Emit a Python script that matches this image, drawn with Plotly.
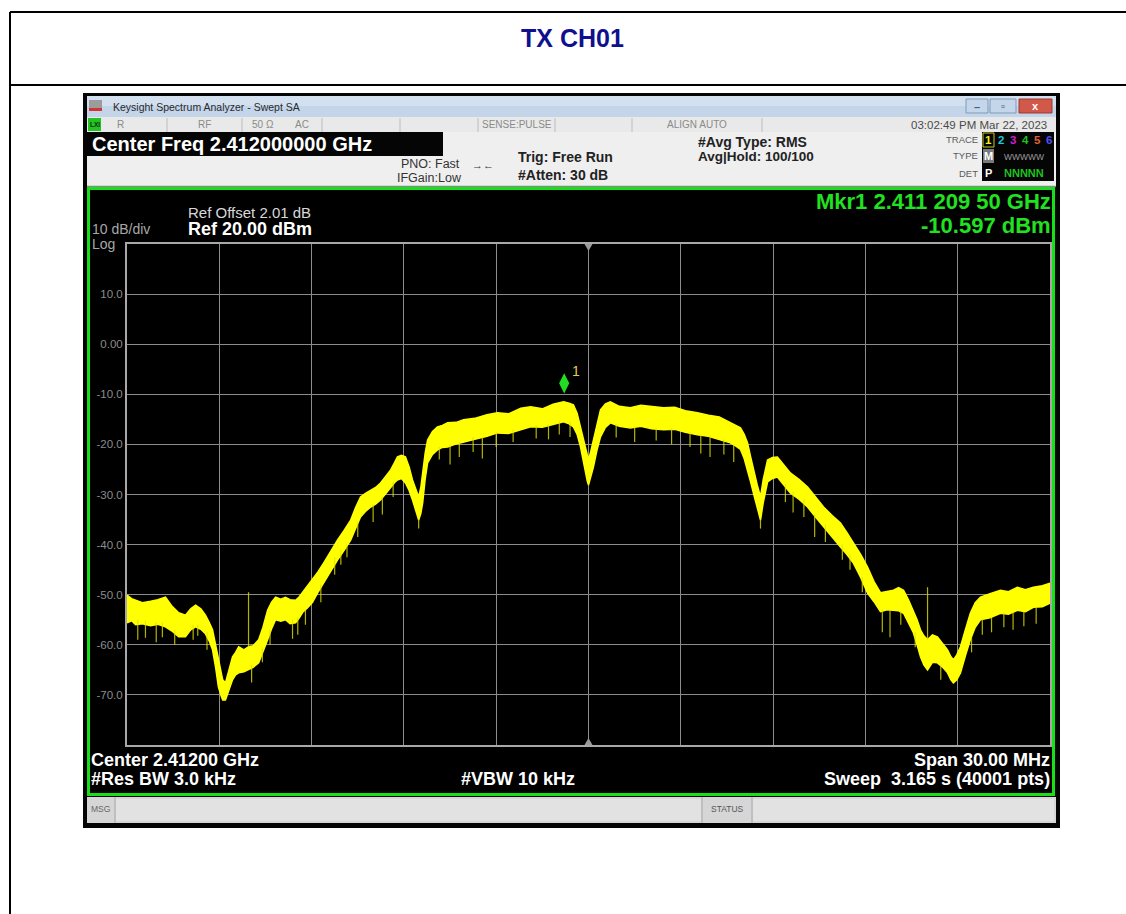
import plotly.graph_objects as go

W, H = 1126, 914

# ---------------- data ----------------
center_ghz = 2.412
span_mhz = 30.0
ref_dbm = 20.0
bottom_dbm = -80.0
x_div_mhz = 3.0

# trace band: frequency offset from centre (MHz), upper / lower edge of the yellow band (dBm)
freq_mhz = [-15.00, -14.85, -14.72, -14.50, -14.23, -14.00, -13.75, -13.55, -13.32, -13.10,
            -12.93, -12.77, -12.60, -12.45, -12.33, -12.22, -12.12, -12.03, -11.95, -11.89,
            -11.80, -11.70, -11.57, -11.47, -11.37, -11.20, -11.05, -10.90, -10.72, -10.58,
            -10.43, -10.30, -10.17, -10.00, -9.85, -9.70, -9.52, -9.40, -9.29, -9.13,
            -8.97, -8.80, -8.61, -8.40, -8.16, -7.95, -7.73, -7.57, -7.41, -7.25,
            -7.08, -6.92, -6.76, -6.60, -6.43, -6.30, -6.21, -6.08, -5.95, -5.83,
            -5.72, -5.62, -5.52, -5.45, -5.39, -5.31, -5.23, -5.07, -4.91, -4.75,
            -4.58, -4.30, -4.06, -3.70, -3.30, -2.96, -2.60, -2.20, -1.88, -1.50,
            -1.15, -0.81, -0.63, -0.49, -0.37, -0.26, -0.18, -0.10, -0.04, 0.00,
            0.07, 0.16, 0.27, 0.39, 0.55, 0.71, 1.00, 1.36, 1.70, 2.05,
            2.44, 2.80, 3.15, 3.54, 3.90, 4.25, 4.61, 4.78, 4.94, 5.06,
            5.17, 5.27, 5.36, 5.48, 5.59, 5.68, 5.82, 5.98, 6.14, 6.35,
            6.56, 6.85, 7.12, 7.38, 7.64, 7.92, 8.19, 8.40, 8.61, 8.85,
            9.07, 9.28, 9.49, 9.70, 9.91, 10.08, 10.24, 10.40, 10.56, 10.68,
            10.79, 10.90, 11.02, 11.18, 11.34, 11.50, 11.67, 11.78, 11.86, 11.97,
            12.09, 12.25, 12.41, 12.57, 12.74, 13.05, 13.39, 13.65, 13.94, 14.20,
            14.46, 14.75, 15.00]
band_hi_dbm = [-50.1, -50.8, -51.1, -51.6, -51.3, -51.0, -50.5, -52.2, -53.6, -54.1,
               -52.8, -52.1, -52.8, -54.1, -55.5, -57.0, -60.0, -63.0, -65.5, -67.0,
               -67.6, -65.2, -62.4, -61.5, -60.4, -61.0, -60.4, -60.2, -59.0, -56.5,
               -53.1, -51.5, -50.5, -50.9, -50.5, -51.0, -51.1, -50.4, -49.5, -48.4,
               -47.1, -45.5, -43.7, -41.5, -39.1, -37.2, -35.1, -32.6, -30.5, -29.8,
               -29.1, -28.6, -27.7, -26.5, -25.1, -23.6, -22.5, -22.2, -22.5, -24.5,
               -27.1, -28.8, -30.5, -28.6, -25.1, -21.8, -19.1, -17.4, -16.5, -16.2,
               -15.7, -15.6, -15.1, -14.8, -14.1, -13.7, -13.9, -12.8, -12.5, -12.9,
               -12.0, -11.5, -11.8, -12.1, -13.8, -16.5, -18.4, -20.5, -22.3, -23.1,
               -21.5, -19.1, -16.0, -13.1, -11.9, -11.5, -12.4, -12.7, -12.2, -12.4,
               -12.7, -12.6, -13.3, -13.7, -14.2, -14.5, -15.7, -16.1, -16.7, -18.0,
               -19.7, -22.5, -25.1, -28.0, -30.5, -27.0, -23.1, -22.6, -22.5, -24.0,
               -25.7, -27.0, -28.5, -30.5, -32.5, -34.2, -35.7, -37.6, -39.7, -42.0,
               -44.5, -47.4, -49.6, -49.4, -49.1, -48.6, -49.1, -51.0, -53.1, -55.0,
               -57.0, -58.2, -59.0, -58.0, -58.4, -59.6, -61.0, -62.4, -63.0, -62.0,
               -60.4, -57.0, -53.7, -51.6, -50.5, -49.8, -49.1, -49.4, -48.5, -49.0,
               -48.5, -48.2, -47.7]
band_lo_dbm = [-55.6, -55.2, -56.0, -55.8, -56.2, -55.9, -56.4, -57.2, -58.4, -58.4,
               -57.0, -56.4, -56.9, -57.8, -59.2, -61.0, -64.5, -68.4, -70.0, -71.0,
               -71.0, -69.3, -67.0, -66.0, -65.6, -65.4, -65.0, -64.5, -63.6, -61.5,
               -59.0, -56.8, -55.0, -55.3, -55.0, -55.8, -55.6, -54.6, -53.5, -52.6,
               -51.5, -49.6, -47.7, -45.4, -43.1, -41.2, -39.1, -36.8, -34.5, -33.4,
               -32.5, -31.9, -31.1, -29.9, -28.5, -27.6, -27.1, -26.8, -27.7, -29.2,
               -31.1, -33.2, -35.1, -33.8, -31.7, -27.0, -23.7, -22.0, -21.1, -20.6,
               -20.5, -19.9, -19.5, -19.0, -18.4, -17.7, -17.8, -17.0, -16.5, -16.6,
               -16.0, -15.5, -15.9, -16.5, -18.0, -20.5, -23.0, -25.7, -27.3, -28.1,
               -26.5, -24.5, -21.3, -18.5, -16.6, -15.7, -16.4, -16.7, -16.4, -16.9,
               -17.1, -17.0, -17.6, -18.1, -18.4, -19.0, -19.7, -20.3, -21.0, -22.8,
               -25.1, -27.5, -29.7, -32.5, -35.1, -31.6, -27.5, -26.8, -26.5, -28.1,
               -29.7, -31.0, -32.5, -34.5, -36.5, -38.5, -40.5, -42.0, -43.7, -46.6,
               -49.7, -51.4, -53.4, -53.0, -53.1, -53.2, -53.7, -55.5, -57.6, -60.0,
               -62.4, -64.0, -65.0, -63.5, -63.6, -64.4, -65.6, -67.0, -67.6, -67.0,
               -65.6, -62.2, -59.0, -56.5, -55.0, -54.6, -53.7, -53.9, -53.1, -53.4,
               -52.5, -52.4, -51.7]

# isolated noise spikes: frequency offset (MHz) and the two ends of each spike (dBm)
spike_mhz = [-14.65, -14.40, -14.05, -13.85, -13.45, -12.85, -12.70, -12.40, -11.05, -10.95,
             -10.60, -10.35, -9.62, -9.45, -9.20, -8.70, -8.25, -8.05, -7.85, -7.50,
             -7.00, -6.70, -6.35, -5.52, -4.85, -4.50, -4.20, -3.75, -3.45, -3.00,
             -2.45, -1.70, -1.30, -0.95, -0.60, 0.90, 1.50, 2.20, 2.70, 3.30,
             3.65, 3.95, 4.40, 4.72, 5.59, 6.40, 6.65, 7.00, 7.35, 7.70,
             8.25, 8.50, 8.90, 9.55, 9.80, 10.15, 10.62, 11.02, 11.45, 12.45,
             12.80, 13.10, 13.50, 13.80, 14.15, 14.55]
spike_a_dbm = [-55.0, -55.2, -55.5, -55.5, -57.0, -56.0, -56.0, -57.5, -60.4, -64.0,
               -60.5, -57.0, -55.0, -54.5, -53.0, -48.0, -42.5, -41.0, -40.0, -35.5,
               -32.0, -30.5, -27.5, -35.0, -20.5, -20.0, -19.5, -18.5, -18.5, -17.5,
               -17.0, -16.2, -16.0, -15.3, -15.5, -16.0, -16.5, -16.8, -16.8, -17.5,
               -18.0, -18.2, -19.0, -20.0, -35.0, -28.0, -29.5, -31.0, -34.0, -36.0,
               -40.0, -42.0, -46.5, -53.0, -53.0, -53.2, -57.5, -59.0, -64.0, -58.5,
               -54.8, -54.5, -53.5, -53.5, -53.3, -52.5]
spike_b_dbm = [-59.0, -58.6, -59.5, -58.5, -60.0, -59.0, -58.2, -61.0, -49.5, -67.5,
               -63.5, -60.0, -58.8, -58.0, -56.0, -51.5, -46.0, -44.0, -42.5, -38.5,
               -35.5, -34.0, -30.5, -36.8, -23.0, -24.0, -22.5, -21.5, -22.8, -20.5,
               -19.5, -18.8, -19.0, -18.0, -18.5, -18.6, -19.5, -19.2, -20.0, -20.5,
               -21.8, -22.5, -22.0, -23.5, -36.8, -31.5, -33.6, -34.5, -38.5, -39.5,
               -43.0, -45.0, -49.5, -57.5, -58.5, -56.0, -60.5, -48.5, -67.0, -61.5,
               -58.0, -57.5, -56.5, -57.0, -56.3, -55.8]

ytick_vals = [10, 0, -10, -20, -30, -40, -50, -60, -70]
ytick_text = ["10.0", "0.00", "-10.0", "-20.0", "-30.0", "-40.0", "-50.0", "-60.0", "-70.0"]

mkr_freq_ghz = 2.4112095
mkr_dbm = -10.597

# ---------------- layout helpers ----------------
FONT = "Liberation Sans, Arial, sans-serif"
shapes = []
anns = []


def px(x):
    return x / W


def py(y):
    return 1 - y / H


def rect(x0, y0, x1, y1, fill, line=None, lw=0, layer="below"):
    shapes.append(dict(type="rect", xref="paper", yref="paper",
                       x0=px(x0), x1=px(x1), y0=py(y1), y1=py(y0),
                       fillcolor=fill, layer=layer,
                       line=dict(width=lw, color=line if line else fill)))


def hline(x0, x1, y, color, lw=1, layer="below"):
    shapes.append(dict(type="line", xref="paper", yref="paper",
                       x0=px(x0), x1=px(x1), y0=py(y), y1=py(y),
                       line=dict(color=color, width=lw), layer=layer))


def vline(x, y0, y1, color, lw=1, layer="below"):
    shapes.append(dict(type="line", xref="paper", yref="paper",
                       x0=px(x), x1=px(x), y0=py(y0), y1=py(y1),
                       line=dict(color=color, width=lw), layer=layer))


def txt(x, y, s, size, color, anchor="left", bold=False, family=FONT):
    anns.append(dict(x=px(x), y=py(y), xref="paper", yref="paper",
                     text=("<b>%s</b>" % s) if bold else s, showarrow=False,
                     xanchor=anchor, yanchor="middle", borderpad=0,
                     font=dict(size=size, color=color, family=family)))


# ---------------- page (report table) ----------------
hline(10, 1126, 12, "black", 2)
hline(10, 1126, 85, "black", 2)
vline(10, 12, 914, "black", 2)
txt(572, 38, "TX CH01", 25, "#10108e", "center", True)

# ---------------- screenshot frame ----------------
rect(83, 93, 1060, 828, "#050505")
# window title bar
rect(87, 96, 1056, 106, "#d3e0ef")
rect(87, 106, 1056, 117, "#c4d5ea")
rect(89, 100, 102, 108, "#9c9c9c")
rect(89, 108, 102, 111, "#cf3535")
txt(112, 107, "Keysight Spectrum Analyzer - Swept SA", 10.5, "#2a2a2a")
rect(966, 99, 988, 113, "#c5d6ea", "#7f9bbb", 1)
txt(977, 107, "–", 11, "#3b5f8f", "center", True)
rect(990, 99, 1016, 113, "#c5d6ea", "#7f9bbb", 1)
txt(1003, 106, "▫", 11, "#3b5f8f", "center", True)
rect(1019, 99, 1052, 113, "#d2584a", "#9a3a30", 1)
txt(1035.5, 106, "x", 11, "white", "center", True)

# status row
rect(87, 117, 1056, 132, "#e9e9e9")
for xs in [167, 242, 322, 400, 478, 555, 632, 762]:
    vline(xs, 118, 132, "#bdbdbd", 1)
rect(88, 118, 101, 131, "#22c322")
txt(94.5, 125, "LXI", 6.5, "#103010", "center", True)
txt(116, 125, "R", 10, "#8a8a8a")
txt(204, 125, "RF", 10, "#8a8a8a", "center")
txt(263, 125, "50 Ω", 10, "#8a8a8a", "center")
txt(302, 125, "AC", 10, "#8a8a8a", "center")
txt(517, 125, "SENSE:PULSE", 10, "#8a8a8a", "center")
txt(697, 125, "ALIGN AUTO", 10, "#8a8a8a", "center")
txt(1048, 125, "03:02:49 PM Mar 22, 2023", 11.5, "#4a4a4a", "right")

# header
rect(87, 132, 1056, 186, "#efefef")
rect(87, 132, 443, 156, "#050505")
txt(91, 144, "Center Freq 2.412000000 GHz", 20, "white", bold=True)
txt(400, 164, "PNO: Fast", 12.5, "#333333")
txt(396, 178, "IFGain:Low", 12.5, "#333333")
txt(483, 165, "→←", 11, "#333333", "center", True)
txt(517, 157, "Trig: Free Run", 14, "#222222", bold=True)
txt(517, 175, "#Atten: 30 dB", 14, "#222222", bold=True)
txt(697, 142, "#Avg Type: RMS", 14, "#222222", bold=True)
txt(697, 157, "Avg|Hold: 100/100", 13.5, "#222222", bold=True)
txt(979, 139, "TRACE", 9.5, "#5a5a5a", "right")
txt(979, 156, "TYPE", 9.5, "#5a5a5a", "right")
txt(979, 173, "DET", 9.5, "#5a5a5a", "right")
rect(982, 132, 1054, 181, "#050505")
rect(983, 133, 994, 147, "#050505", "#c8c820", 1)
for xd, d, c in [(988.5, "1", "#f0f020"), (1001, "2", "#20c8d8"), (1013, "3", "#d020d0"),
                 (1025, "4", "#20c020"), (1037, "5", "#e06030"), (1049, "6", "#5050f0")]:
    txt(xd, 140, d, 11.5, c, "center", True)
rect(983, 149, 994, 163, "#7a7a7a")
txt(988.5, 156, "M", 11, "white", "center", True)
txt(1024, 157, "WWWWW", 8.5, "#9a9a9a", "center")
txt(988.5, 173, "P", 11, "white", "center", True)
txt(1024, 173, "NNNNN", 11, "#20c020", "center", True)
hline(87, 1056, 186.5, "#8a8a8a", 1.5)

# measurement screen (green border)
rect(88.5, 188.5, 1053.5, 794.5, "#000000", "#18e018", 3)
txt(91, 229, "10 dB/div", 14, "#a8a8a8")
txt(91, 244, "Log", 14, "#a8a8a8")
txt(187, 212, "Ref Offset 2.01 dB", 15, "#d8d8d8")
txt(187, 229, "Ref 20.00 dBm", 18, "white", bold=True)
txt(1052, 201, "Mkr1 2.411 209 50 GHz", 22, "#22e022", "right", True)
txt(1052, 225, "-10.597 dBm", 22, "#22e022", "right", True)
txt(90, 760, "Center 2.41200 GHz", 18, "white", bold=True)
txt(90, 779, "#Res BW 3.0 kHz", 18, "white", bold=True)
txt(460, 779, "#VBW 10 kHz", 18, "white", bold=True)
txt(1051, 760, "Span 30.00 MHz", 18, "white", "right", True)
txt(1051, 779, "Sweep  3.165 s (40001 pts)", 18, "white", "right", True)

# message bar
rect(87, 797, 1056, 823, "#d6d6d6")
rect(116, 799, 701, 821, "#e2e2e2")
rect(753, 799, 1054, 821, "#e2e2e2")
vline(115, 797, 823, "#a8a8a8", 1)
vline(702, 797, 823, "#a8a8a8", 1)
vline(752, 797, 823, "#a8a8a8", 1)
txt(90, 809, "MSG", 8.5, "#666666")
txt(727, 809, "STATUS", 8.5, "#555555", "center")

# ---------------- plot ----------------
GX0, GX1, GY0, GY1 = 127, 1050, 244, 745
x_lo, x_hi = -span_mhz / 2, span_mhz / 2

fig = go.Figure()
fig.add_trace(go.Scatter(x=freq_mhz, y=band_lo_dbm, mode="lines",
                         line=dict(color="#ffff00", width=1.5), hoverinfo="skip", showlegend=False))
fig.add_trace(go.Scatter(x=freq_mhz, y=band_hi_dbm, mode="lines", fill="tonexty", fillcolor="#ffff00",
                         line=dict(color="#ffff00", width=1.5), hoverinfo="skip", showlegend=False))
sx, sy = [], []
for f, a, b in zip(spike_mhz, spike_a_dbm, spike_b_dbm):
    sx += [f, f, None]
    sy += [a, b, None]
fig.add_trace(go.Scatter(x=sx, y=sy, mode="lines", line=dict(color="rgba(225,225,0,0.8)", width=1.2),
                         hoverinfo="skip", showlegend=False))

# marker 1 (diamond drawn just above the marked point)
db_per_px = (ref_dbm - bottom_dbm) / (GY1 - GY0)
mkr_off = (mkr_freq_ghz - center_ghz) * 1000.0
fig.add_trace(go.Scatter(x=[mkr_off], y=[mkr_dbm + 14 * db_per_px], mode="markers",
                         marker=dict(symbol="diamond-tall", size=14.5, color="#22dd22",
                                     line=dict(width=0)),
                         hoverinfo="skip", showlegend=False))
anns.append(dict(x=mkr_off, y=mkr_dbm, xref="x", yref="y", text="1", showarrow=False,
                 xshift=12, yshift=26, font=dict(size=14, color="#e0d040", family=FONT)))

# centre-line triangles at top and bottom of graticule
cx = GX0 + (0 - x_lo) / span_mhz * (GX1 - GX0)
shapes.append(dict(type="path", xref="paper", yref="paper", layer="above",
                   path="M %f %f L %f %f L %f %f Z" % (px(cx - 4), py(GY0), px(cx + 4), py(GY0), px(cx), py(GY0 + 7)),
                   fillcolor="#9a9a9a", line=dict(width=0)))
shapes.append(dict(type="path", xref="paper", yref="paper", layer="above",
                   path="M %f %f L %f %f L %f %f Z" % (px(cx - 4), py(GY1), px(cx + 4), py(GY1), px(cx), py(GY1 - 7)),
                   fillcolor="#9a9a9a", line=dict(width=0)))

fig.update_layout(
    width=W, height=H, margin=dict(l=0, r=0, t=0, b=0),
    paper_bgcolor="white", plot_bgcolor="black",
    shapes=shapes, annotations=anns, showlegend=False,
    xaxis=dict(domain=[px(GX0), px(GX1)], range=[x_lo, x_hi], tick0=x_lo, dtick=x_div_mhz,
               showgrid=True, gridcolor="#8c8c8c", gridwidth=1, zeroline=False,
               showticklabels=False, ticks="", showline=True, linecolor="#a8a8a8",
               linewidth=2, mirror=True, fixedrange=True),
    yaxis=dict(domain=[py(GY1), py(GY0)], range=[bottom_dbm, ref_dbm], tickvals=ytick_vals,
               ticktext=ytick_text, tickfont=dict(size=11.5, color="#8c8c8c", family=FONT),
               showgrid=True, gridcolor="#8c8c8c", gridwidth=1, zeroline=False,
               ticks="", ticklen=0, showline=True, linecolor="#a8a8a8", linewidth=2,
               mirror=True, fixedrange=True),
)

fig.write_html("out.html", config={"displayModeBar": False},
               post_script="document.body.style.margin='0px';document.body.style.overflow='hidden';")
